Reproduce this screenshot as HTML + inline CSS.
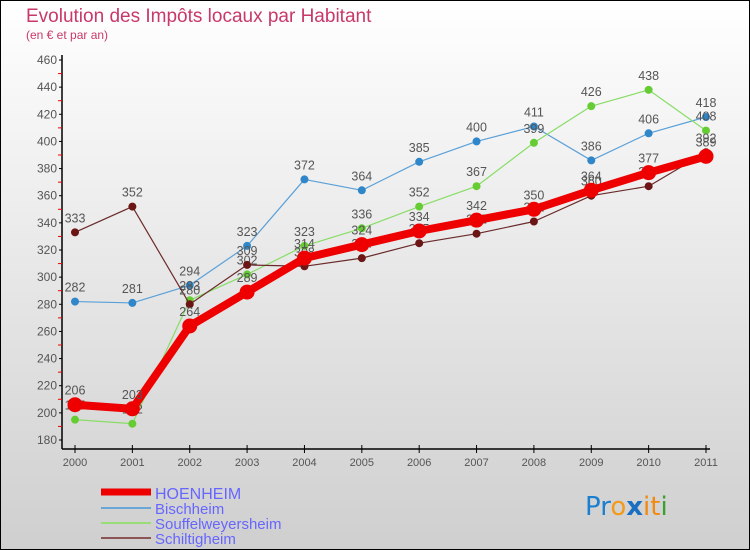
<!DOCTYPE html>
<html><head><meta charset="utf-8"><style>
body{margin:0;width:750px;height:550px;overflow:hidden;font-family:"Liberation Sans","DejaVu Sans",sans-serif}
svg{display:block}
</style></head><body>
<svg id="chart" width="750" height="550" xmlns="http://www.w3.org/2000/svg" font-family="'Liberation Sans',sans-serif">
<defs><linearGradient id="bg" x1="0" y1="0" x2="0" y2="1"><stop offset="0" stop-color="#ffffff"/><stop offset="1" stop-color="#cfcfcf"/></linearGradient></defs>
<rect x="0.5" y="0.5" width="749" height="549" fill="url(#bg)" stroke="#000"/>
<text x="26" y="22" font-size="19" fill="#c8386a">Evolution des Impôts locaux par Habitant</text>
<text x="26" y="39" font-size="12" fill="#c8386a">(en € et par an)</text>
<g id="axes"></g>
<g id="series"></g>
<g id="legend">
<line x1="101" y1="492" x2="151" y2="492" stroke="#ee0000" stroke-width="7"/>
<text x="155" y="499" font-size="16" fill="#6666ff">HOENHEIM</text>
<line x1="101" y1="508" x2="151" y2="508" stroke="#6aa6d6" stroke-width="2"/>
<text x="155" y="514" font-size="15" fill="#6666ff">Bischheim</text>
<line x1="101" y1="523" x2="151" y2="523" stroke="#99dd77" stroke-width="2"/>
<text x="155" y="529" font-size="15" fill="#6666ff">Souffelweyersheim</text>
<line x1="101" y1="538" x2="151" y2="538" stroke="#8b5555" stroke-width="2"/>
<text x="155" y="544" font-size="15" fill="#6666ff">Schiltigheim</text>
</g>
<g font-family="'DejaVu Sans',sans-serif" font-size="26">
<text x="585" y="515"><tspan fill="#1b7fd0">Pr</tspan><tspan fill="#f39a1a">o</tspan><tspan fill="#1b6fc0" font-weight="bold">x</tspan><tspan fill="#f08a10">it</tspan><tspan fill="#3aa030">i</tspan></text>
</g>
</svg>
<script>
const years=["2000","2001","2002","2003","2004","2005","2006","2007","2008","2009","2010","2011"];
const yTicks=[180,200,220,240,260,280,300,320,340,360,380,400,420,440,460];
const hoenheim=[206,203,264,289,314,324,334,342,350,364,377,389];
const bischheim=[282,281,294,323,372,364,385,400,411,386,406,418];
const souffel=[195,192,283,302,323,336,352,367,399,426,438,408];
const schiltigheim=[333,352,280,309,308,314,325,332,341,360,367,392];
const NS="http://www.w3.org/2000/svg";
const X=i=>75+i*(706-75)/11;
const Y=v=>440-(v-180)*(380/280);
function mk(tag,attrs,parent){const e=document.createElementNS(NS,tag);for(const k in attrs)e.setAttribute(k,attrs[k]);parent.appendChild(e);return e;}
const ax=document.getElementById('axes');
let l=mk('line',{x1:62,y1:55,x2:62,y2:449,stroke:'#000','stroke-width':1.5},ax);


l=mk('line',{x1:62,y1:449,x2:710,y2:449,stroke:'#000','stroke-width':1.5},ax);


yTicks.forEach((v,i)=>{
  const y=Y(v);
  mk('line',{x1:59,y1:y,x2:62,y2:y,stroke:'#000'},ax);
  if(i<yTicks.length-1){const ym=Y(v+10);mk('line',{x1:58,y1:ym,x2:62,y2:ym,stroke:'#e00'},ax);}
  const t=mk('text',{x:57,y:y+4,'font-size':12,fill:'#555','text-anchor':'end'},ax);
  t.textContent=v;
  
  
});
years.forEach((yr,i)=>{
  const x=X(i);
  mk('line',{x1:x,y1:445,x2:x,y2:453,stroke:'#000'},ax);
  const t=mk('text',{x:x,y:466,'font-size':11,fill:'#555','text-anchor':'middle'},ax);
  t.textContent=yr;
  
  
});
const sg=document.getElementById('series');
function draw(data,name,color,w,r,dotColor){
  const g=mk('g',{},sg);
  
  
  const p=mk('polyline',{points:data.map((v,i)=>X(i)+','+Y(v)).join(' '),fill:'none',stroke:color,'stroke-width':w,'stroke-linejoin':'round'},g);
  
  
  data.forEach((v,i)=>{
    const c=mk('circle',{cx:X(i),cy:Y(v),r:r,fill:dotColor},g);
    
    
    const t=mk('text',{x:X(i),y:Y(v)-10,'font-size':12.5,fill:'#555','text-anchor':'middle'},g);
    t.textContent=v;
    
    
  });
}
draw(bischheim,'bischheim','#5aa0d8',1.2,4,'#2f86c8');
draw(souffel,'souffelweyersheim','#88dd66',1.2,4,'#66cc33');
draw(schiltigheim,'schiltigheim','#6b2a2a',1.2,4,'#6b1515');
draw(hoenheim,'hoenheim','#ee0000',8,7.5,'#ee0000');
</script>
</body></html>
